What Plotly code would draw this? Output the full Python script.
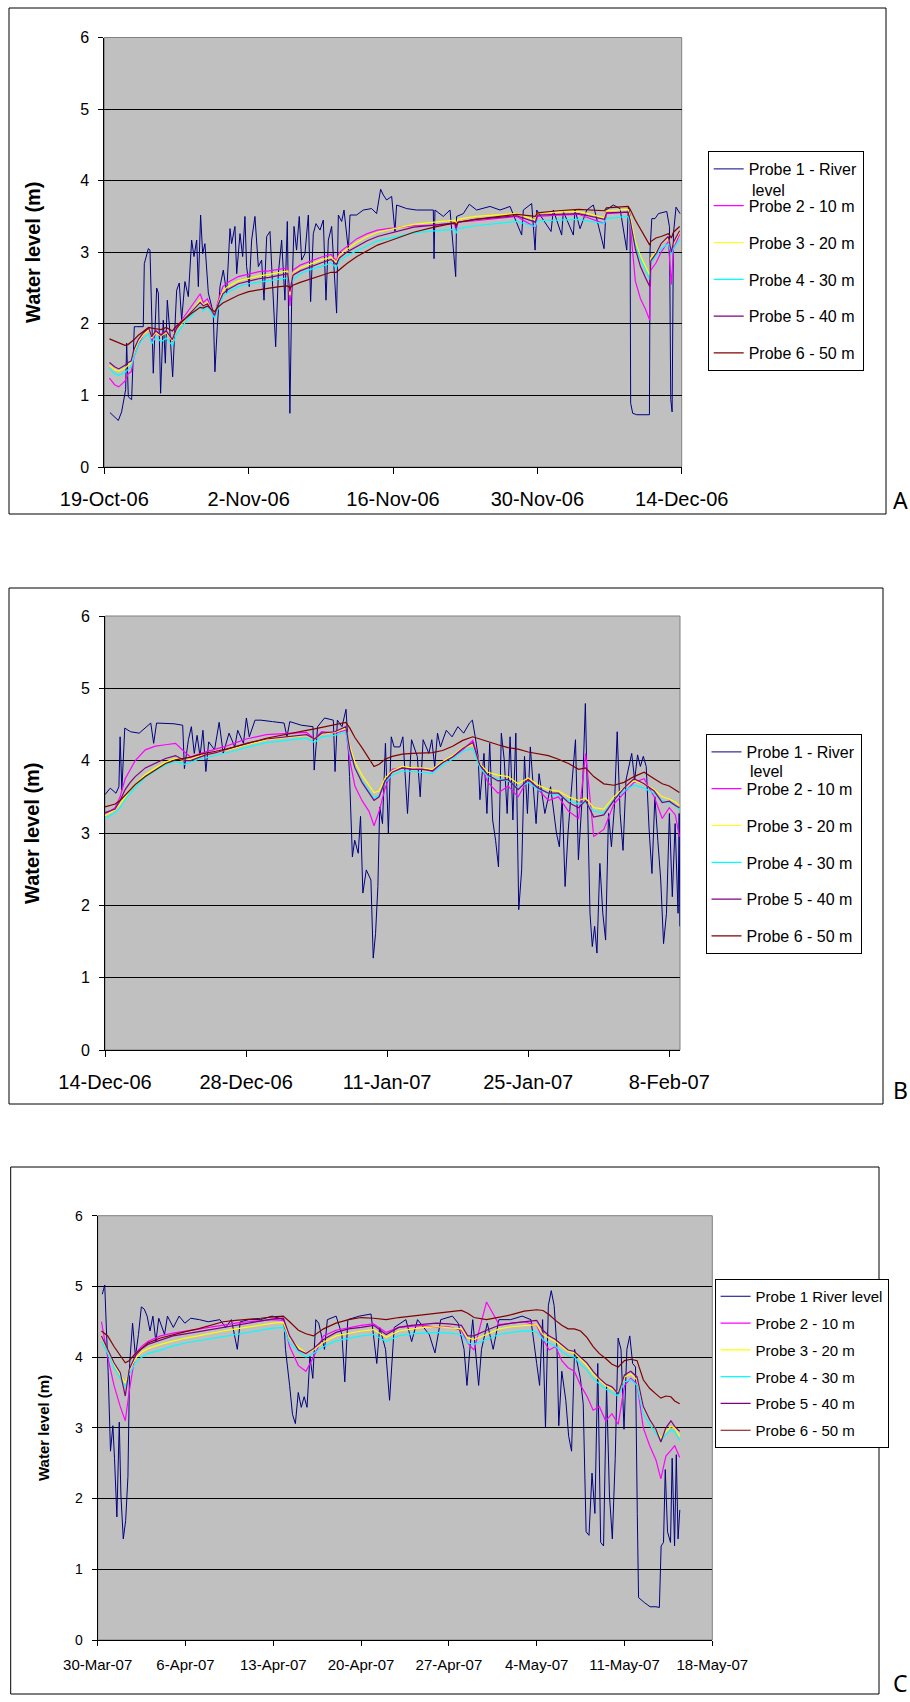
import pandas as pd
import plotly.graph_objects as go

W, H = 910, 1702
FONT = "Liberation Sans, Arial, sans-serif"

NAMES_AB = ["Probe 1 - River", "Probe 2 - 10 m", "Probe 3 - 20 m",
            "Probe 4 - 30 m", "Probe 5 - 40 m", "Probe 6 - 50 m"]
NAMES_AB_WRAP = "level"
NAMES_C = ["Probe 1 River level", "Probe 2 - 10 m", "Probe 3 - 20 m",
           "Probe 4 - 30 m", "Probe 5 - 40 m", "Probe 6 - 50 m"]
COLORS = ["#000080", "#FF00FF", "#FFFF00", "#00FFFF", "#800080", "#800000"]

# ---------------- Panel A (days after 19-Oct-06) ----------------
A_start, A_end = "2006-10-19", "2006-12-14"
A_tickvals = ["2006-10-19", "2006-11-02", "2006-11-16", "2006-11-30", "2006-12-14"]
A_ticktext = ["19-Oct-06", "2-Nov-06", "16-Nov-06", "30-Nov-06", "14-Dec-06"]

A_river_day = [0.55, 1.36, 1.68, 2.07, 2.17, 2.33, 2.65, 2.91, 3.14, 3.78,
               3.88, 4.27, 4.43, 4.59, 4.75, 5.08, 5.24, 5.46, 5.72, 5.92,
               6.11, 6.37, 6.63, 6.85, 7.02, 7.27, 7.5, 7.82, 8.15, 8.47,
               8.7, 8.96, 9.12, 9.34, 9.54, 9.76, 10.09, 10.57, 10.73, 10.96,
               11.22, 11.54, 11.87, 12.19, 12.35, 12.67, 12.84, 13.16, 13.42, 13.64,
               13.8, 14.06, 14.29, 14.61, 14.94, 15.26, 15.49, 15.75, 16.07, 16.33,
               16.62, 16.88, 17.2, 17.52, 17.75, 18.0, 18.17, 18.4, 18.65, 18.91,
               19.14, 19.46, 19.79, 20.01, 20.27, 20.53, 20.92, 21.24, 21.5, 21.73,
               22.05, 22.53, 22.7, 23.02, 23.25, 23.67, 23.83, 24.47, 25.12, 25.93,
               26.41, 26.8, 27.06, 27.38, 27.87, 28.19, 28.35, 29.32, 30.29, 31.91,
               31.98, 32.07, 32.88, 33.53, 34.08, 34.17, 34.82, 35.4, 36.11, 37.41,
               38.38, 39.35, 40.48, 40.64, 41.45, 41.78, 41.94, 43.33, 43.55, 44.36,
               44.52, 45.49, 45.65, 46.14, 46.79, 47.43, 48.47, 48.66, 49.37, 50.02,
               50.67, 50.83, 50.99, 51.05, 51.25, 51.64, 52.87, 52.93, 53.1, 53.41,
               53.74, 54.55, 54.81, 54.94, 55.07, 55.2, 55.45, 55.84]
A_river = [0.76, 0.65, 0.77, 1.08, 1.73, 0.98, 0.94, 1.96, 1.96, 1.96,
           2.84, 3.05, 3.03, 2.24, 1.31, 2.5, 2.43, 1.03, 2.05, 1.45,
           2.33, 1.87, 1.26, 1.96, 2.47, 2.57, 2.05, 2.59, 2.38, 3.17,
           2.94, 3.17, 2.52, 3.52, 2.98, 3.12, 2.43, 2.15, 1.33, 1.96,
           2.52, 2.75, 2.43, 3.33, 3.12, 3.36, 2.7, 3.26, 2.94, 3.5,
           2.8, 2.52, 3.17, 3.5, 2.8, 2.89, 2.33, 3.22, 3.29, 2.52,
           1.68, 2.7, 3.17, 2.33, 3.43, 0.75, 2.31, 3.36, 3.03, 3.5,
           2.89, 2.98, 3.52, 2.31, 3.26, 3.4, 3.31, 3.45, 2.33, 3.17,
           3.36, 2.15, 3.52, 3.43, 3.59, 3.03, 3.52, 3.52, 3.59, 3.61,
           3.54, 3.88, 3.8, 3.73, 3.78, 3.29, 3.66, 3.61, 3.59, 3.59,
           2.91, 3.59, 3.5, 3.59, 2.66, 3.5, 3.54, 3.67, 3.59, 3.64,
           3.59, 3.64, 3.24, 3.59, 3.68, 3.03, 3.59, 3.29, 3.59, 3.24,
           3.57, 3.24, 3.59, 3.33, 3.59, 3.66, 3.05, 3.59, 3.66, 3.61,
           3.03, 3.64, 3.52, 0.89, 0.75, 0.73, 0.73, 3.03, 3.47, 3.47,
           3.54, 3.57, 3.36, 0.94, 0.77, 3.26, 3.63, 3.54]

A_probe_day = [0.5, 1.0, 1.4, 2.0, 2.3, 2.6, 2.9, 3.3, 3.8, 4.3,
               4.6, 5.0, 5.5, 6.0, 6.6, 7.0, 7.5, 8.0, 8.5, 9.0,
               9.3, 9.6, 10.0, 10.7, 11.0, 11.5, 12.0, 13.0, 14.0, 15.0,
               16.0, 17.0, 17.8, 18.0, 18.3, 19.0, 20.0, 21.0, 22.0, 22.5,
               22.8, 23.5, 24.5, 25.5, 26.5, 27.5, 29.0, 30.0, 32.0, 34.0,
               34.1, 34.3, 36.0, 38.0, 40.0, 41.8, 42.0, 44.0, 46.0, 48.5,
               48.7, 50.8, 51.0, 51.5, 52.0, 52.5, 52.9, 53.0, 53.5, 54.0,
               54.7, 55.0, 55.2, 55.8]
A_probe2 = [1.24, 1.15, 1.12, 1.2, 1.3, 1.33, 1.55, 1.7, 1.85, 1.95,
            1.75, 1.9, 1.85, 1.9, 1.75, 1.95, 2.05, 2.15, 2.25, 2.35,
            2.42, 2.3, 2.35, 2.1, 2.3, 2.52, 2.58, 2.66, 2.7, 2.73,
            2.74, 2.76, 2.78, 2.25, 2.75, 2.82, 2.88, 2.93, 2.97, 2.88,
            3.0, 3.08, 3.19, 3.26, 3.31, 3.33, 3.35, 3.37, 3.38, 3.4,
            3.3, 3.42, 3.44, 3.47, 3.5, 3.35, 3.5, 3.52, 3.53, 3.4,
            3.54, 3.56, 3.4, 2.6, 2.35, 2.2, 2.05, 2.75, 2.85, 3.0,
            3.15, 2.55, 3.05, 3.25]
A_probe3 = [1.42, 1.36, 1.34, 1.38, 1.42, 1.45, 1.62, 1.75, 1.85, 1.92,
            1.8, 1.88, 1.83, 1.88, 1.76, 1.92, 2.0, 2.1, 2.18, 2.28,
            2.33, 2.25, 2.3, 2.12, 2.27, 2.46, 2.52, 2.6, 2.64, 2.67,
            2.69, 2.72, 2.74, 2.4, 2.72, 2.78, 2.84, 2.89, 2.93, 2.86,
            2.96, 3.04, 3.14, 3.22, 3.28, 3.31, 3.36, 3.39, 3.42, 3.45,
            3.38, 3.46, 3.5, 3.52, 3.54, 3.45, 3.55, 3.56, 3.57, 3.48,
            3.58, 3.6, 3.5, 3.15, 2.95, 2.8, 2.68, 2.92, 3.0, 3.12,
            3.2, 3.0, 3.12, 3.28]
A_probe4 = [1.38, 1.3, 1.28, 1.32, 1.36, 1.4, 1.55, 1.7, 1.8, 1.86,
            1.72, 1.82, 1.75, 1.8, 1.7, 1.85, 1.95, 2.05, 2.12, 2.2,
            2.25, 2.18, 2.24, 2.08, 2.2, 2.38, 2.44, 2.52, 2.56, 2.58,
            2.6, 2.62, 2.64, 2.5, 2.62, 2.7, 2.76, 2.8, 2.85, 2.78,
            2.88, 2.95, 3.02, 3.1, 3.16, 3.19, 3.24, 3.27, 3.3, 3.32,
            3.26, 3.33, 3.37, 3.4, 3.43, 3.36, 3.44, 3.45, 3.46, 3.4,
            3.47, 3.5, 3.4, 3.1, 2.9, 2.75, 2.62, 2.85, 2.95, 3.05,
            3.12, 2.97, 3.05, 3.18]
A_probe5 = [1.46, 1.4, 1.37, 1.42, 1.46, 1.48, 1.65, 1.78, 1.88, 1.94,
            1.82, 1.9, 1.84, 1.9, 1.78, 1.93, 2.02, 2.1, 2.17, 2.25,
            2.3, 2.25, 2.28, 2.12, 2.26, 2.42, 2.48, 2.56, 2.6, 2.63,
            2.65, 2.68, 2.7, 2.45, 2.68, 2.74, 2.8, 2.85, 2.9, 2.83,
            2.92, 3.0, 3.08, 3.16, 3.22, 3.26, 3.31, 3.35, 3.38, 3.41,
            3.34, 3.42, 3.46, 3.49, 3.51, 3.42, 3.52, 3.53, 3.54, 3.46,
            3.55, 3.56, 3.45, 3.05, 2.8, 2.64, 2.52, 2.88, 2.98, 3.12,
            3.22, 3.0, 3.14, 3.3]
A_probe6 = [1.79, 1.76, 1.73, 1.7, 1.71, 1.74, 1.78, 1.84, 1.9, 1.95,
            1.94, 1.93, 1.92, 1.95, 1.9, 1.97, 2.03, 2.1, 2.15, 2.2,
            2.23, 2.22, 2.25, 2.17, 2.23, 2.29, 2.33, 2.4, 2.45, 2.48,
            2.5, 2.52, 2.53, 2.5, 2.54, 2.58, 2.63, 2.67, 2.72, 2.72,
            2.76, 2.84, 2.94, 3.02, 3.1, 3.15, 3.23, 3.28, 3.35, 3.41,
            3.38, 3.42, 3.46, 3.5, 3.53, 3.5, 3.55, 3.58, 3.6, 3.58,
            3.62, 3.64, 3.6, 3.45, 3.33, 3.2, 3.1, 3.15, 3.2, 3.22,
            3.26, 3.2, 3.28, 3.36]

# ---------------- Panel B (days after 14-Dec-06) ----------------
B_start, B_end = "2006-12-14", "2007-02-09 01:30"
B_tickvals = ["2006-12-14", "2006-12-28", "2007-01-11", "2007-01-25", "2007-02-08"]
B_ticktext = ["14-Dec-06", "28-Dec-06", "11-Jan-07", "25-Jan-07", "8-Feb-07"]

B_river_day = [0, 0.52, 1.09, 1.38, 1.5, 1.67, 1.96, 2.53, 3.39, 4.54,
               4.83, 5.12, 6.84, 7.71, 7.88, 8.28, 8.57, 8.86, 9.14, 9.43,
               9.72, 10.01, 10.29, 10.87, 11.33, 11.73, 12.31, 12.88, 13.17, 13.74,
               14.03, 14.32, 14.89, 15.47, 16.62, 17.77, 18.06, 18.34, 19.49, 20.64,
               20.76, 21.1, 21.79, 22.66, 22.83, 23.06, 23.52, 23.92, 24.1, 24.27,
               24.55, 24.78, 25.13, 25.36, 25.59, 25.93, 26.39, 26.62, 26.85, 27.08,
               27.26, 27.54, 27.83, 28.12, 28.41, 28.69, 29.27, 29.56, 30.02, 30.42,
               30.99, 31.28, 31.57, 32.14, 32.43, 32.72, 33.0, 33.29, 33.87, 34.44,
               35.02, 35.59, 36.17, 36.46, 36.74, 37.03, 37.21, 37.61, 37.9, 38.18,
               38.47, 38.76, 39.05, 39.33, 39.62, 39.91, 40.2, 40.48, 40.77, 41.06,
               41.35, 41.63, 41.92, 42.21, 42.5, 42.78, 43.07, 43.65, 44.22, 44.8,
               45.09, 45.37, 45.66, 45.95, 46.23, 46.69, 46.98, 47.38, 47.67, 47.96,
               48.13, 48.36, 48.59, 48.82, 49.11, 49.4, 49.68, 49.97, 50.26, 50.55,
               50.83, 51.12, 51.41, 51.7, 51.98, 52.27, 52.56, 52.85, 53.13, 53.42,
               53.71, 54.0, 54.28, 54.57, 54.86, 55.15, 55.43, 55.72, 56.01, 56.3,
               56.58, 56.87, 56.98, 57.05]
B_river = [3.53, 3.62, 3.55, 3.64, 4.33, 3.59, 4.45, 4.4, 4.38, 4.52,
           4.24, 4.52, 4.51, 4.49, 3.89, 4.29, 4.47, 4.1, 4.35, 4.06,
           4.42, 3.85, 4.26, 4.15, 4.53, 4.1, 4.38, 4.19, 4.42, 4.24,
           4.59, 4.33, 4.56, 4.56, 4.54, 4.52, 4.33, 4.54, 4.49, 4.47,
           3.87, 4.47, 4.59, 4.56, 3.85, 4.56, 4.47, 4.71, 4.29, 3.78,
           2.67, 2.9, 2.72, 3.23, 2.17, 2.49, 2.35, 1.27, 1.61, 2.26,
           3.36, 3.13, 4.24, 3.0, 4.33, 4.19, 4.19, 4.33, 3.27, 4.29,
           4.06, 3.5, 4.29, 4.1, 4.29, 3.92, 4.38, 4.19, 4.42, 4.33,
           4.47, 4.38, 4.52, 4.56, 4.33, 4.06, 3.46, 4.1, 3.27, 4.24,
           3.18, 2.9, 2.53, 4.38, 4.01, 3.27, 4.33, 3.18, 4.38, 1.94,
           2.49, 4.06, 3.27, 4.19, 3.64, 3.13, 3.82, 3.27, 3.64, 3.0,
           2.81, 3.5, 2.26, 3.0, 3.5, 4.29, 2.63, 3.55, 4.79, 3.18,
           1.89, 1.43, 1.71, 1.34, 2.58, 1.89, 1.52, 3.27, 2.81, 3.36,
           4.4, 3.27, 2.76, 3.73, 3.92, 4.1, 3.73, 4.08, 3.92, 4.06,
           3.92, 3.04, 2.44, 3.5, 2.9, 2.35, 1.47, 1.89, 3.27, 2.12,
           3.13, 1.89, 3.27, 1.71]

B_probe_day = [0, 0.5, 1.0, 1.5, 2.0, 2.5, 3.0, 4.0, 5.0, 6.0,
               7.0, 7.9, 8.5, 9.5, 10.0, 11.0, 12.0, 13.0, 14.0, 16.0,
               18.0, 20.0, 20.8, 21.5, 22.8, 23.9, 24.3, 24.8, 25.5, 26.2,
               26.7, 27.2, 27.8, 28.5, 29.5, 30.5, 31.5, 32.5, 33.5, 34.5,
               35.5, 36.5, 37.2, 38.0, 39.0, 40.0, 41.0, 42.0, 43.0, 44.0,
               45.0, 46.0, 47.0, 47.7, 48.5, 49.5, 50.5, 51.5, 52.5, 53.5,
               54.5, 55.3, 56.0, 56.6, 57.0]
B_probe2 = [3.27, 3.3, 3.35, 3.5, 3.75, 3.88, 4.0, 4.15, 4.2, 4.22,
            4.24, 4.12, 4.05, 4.1, 4.12, 4.15, 4.2, 4.25, 4.3, 4.36,
            4.38, 4.39, 4.3, 4.4, 4.38, 4.42, 4.0, 3.65, 3.45, 3.3,
            3.1, 3.3, 3.62, 3.88, 3.9, 3.88, 3.9, 3.85, 3.98, 4.05,
            4.15, 4.28, 3.95, 3.7, 3.55, 3.65, 3.5, 3.75, 3.6, 3.45,
            3.5, 3.3, 3.2, 4.1, 2.95, 3.05, 3.4, 3.55, 3.7, 3.75,
            3.5, 3.2, 3.35, 3.25, 2.95]
B_probe3 = [3.24, 3.28, 3.32, 3.4, 3.5, 3.6, 3.67, 3.81, 3.9, 3.98,
            4.03, 4.0, 4.02, 4.07, 4.08, 4.11, 4.15, 4.18, 4.22, 4.29,
            4.32, 4.35, 4.3, 4.37, 4.39, 4.45, 4.2, 3.98, 3.8, 3.66,
            3.56, 3.58, 3.76, 3.86, 3.92, 3.9, 3.9, 3.88, 3.99, 4.07,
            4.18, 4.22, 3.96, 3.84, 3.8, 3.78, 3.68, 3.76, 3.66, 3.6,
            3.58, 3.5, 3.45, 3.48, 3.35, 3.33, 3.5, 3.63, 3.72, 3.68,
            3.6, 3.5, 3.47, 3.43, 3.38]
B_probe4 = [3.2, 3.24, 3.28, 3.35, 3.46, 3.55, 3.62, 3.77, 3.86, 3.94,
            3.99, 3.95, 3.98, 4.03, 4.04, 4.07, 4.11, 4.14, 4.18, 4.25,
            4.28, 4.31, 4.25, 4.33, 4.35, 4.4, 4.1, 3.9, 3.72, 3.58,
            3.48, 3.52, 3.7, 3.8, 3.86, 3.85, 3.84, 3.82, 3.94, 4.02,
            4.13, 4.17, 3.9, 3.78, 3.75, 3.72, 3.62, 3.7, 3.6, 3.55,
            3.52, 3.45, 3.4, 3.42, 3.3, 3.28, 3.46, 3.58, 3.66, 3.62,
            3.55, 3.45, 3.42, 3.38, 3.32]
B_probe5 = [3.28, 3.3, 3.33, 3.45, 3.6, 3.7, 3.78, 3.9, 3.97, 4.03,
            4.07, 4.0, 4.0, 4.06, 4.08, 4.11, 4.15, 4.19, 4.24, 4.3,
            4.33, 4.36, 4.3, 4.38, 4.4, 4.47, 4.15, 3.9, 3.7, 3.55,
            3.45, 3.5, 3.72, 3.84, 3.9, 3.88, 3.88, 3.86, 3.97, 4.05,
            4.17, 4.25, 3.94, 3.8, 3.72, 3.74, 3.6, 3.74, 3.62, 3.55,
            3.55, 3.42, 3.35, 3.45, 3.22, 3.25, 3.45, 3.62, 3.75, 3.68,
            3.58, 3.42, 3.44, 3.38, 3.35]
B_probe6 = [3.36, 3.38, 3.4, 3.45, 3.52, 3.6, 3.67, 3.78, 3.87, 3.96,
            4.01, 4.03, 4.05, 4.09, 4.1, 4.13, 4.16, 4.19, 4.23, 4.31,
            4.37, 4.42, 4.44, 4.46, 4.49, 4.53, 4.45, 4.32, 4.18, 4.02,
            3.92, 3.95, 4.02, 4.06, 4.09, 4.1, 4.1, 4.11, 4.14, 4.2,
            4.28, 4.33, 4.3, 4.26, 4.22, 4.18, 4.16, 4.12, 4.1, 4.07,
            4.02, 3.96, 3.88, 3.9, 3.78, 3.68, 3.66, 3.7, 3.78, 3.84,
            3.75, 3.68, 3.65, 3.6, 3.56]

# ---------------- Panel C (days after 30-Mar-07) ----------------
C_start, C_end = "2007-03-30", "2007-05-18"
C_tickvals = ["2007-03-30", "2007-04-06", "2007-04-13", "2007-04-20",
              "2007-04-27", "2007-05-04", "2007-05-11", "2007-05-18"]
C_ticktext = ["30-Mar-07", "6-Apr-07", "13-Apr-07", "20-Apr-07",
              "27-Apr-07", "4-May-07", "11-May-07", "18-May-07"]

C_river_day = [0.37, 0.56, 0.7, 0.83, 1.02, 1.21, 1.34, 1.53, 1.72, 1.85,
               2.04, 2.23, 2.41, 2.55, 2.78, 3.01, 3.25, 3.48, 3.71, 3.94,
               4.17, 4.4, 4.64, 4.87, 5.33, 5.56, 6.03, 6.49, 6.95, 7.42,
               8.11, 8.81, 9.74, 10.2, 10.66, 11.13, 11.36, 12.05, 12.98, 13.91,
               14.84, 14.97, 15.3, 15.53, 15.76, 15.99, 16.23, 16.46, 16.69, 16.92,
               17.15, 17.39, 17.62, 18.08, 18.31, 19.01, 19.47, 19.7, 19.94, 20.86,
               21.79, 22.25, 22.48, 22.95, 23.27, 23.64, 24.57, 25.03, 25.5, 26.43,
               26.89, 27.35, 28.28, 28.74, 29.21, 29.44, 29.67, 29.9, 30.37, 30.6,
               31.06, 31.53, 31.99, 32.92, 33.84, 34.54, 35.0, 35.23, 35.47, 35.7,
               35.93, 36.16, 36.39, 36.62, 36.76, 37.0, 37.32, 37.55, 37.78, 38.02,
               38.48, 38.71, 38.94, 39.17, 39.41, 39.64, 39.87, 40.1, 40.33, 40.57,
               40.8, 41.03, 41.26, 41.49, 41.72, 41.96, 42.19, 42.42, 42.65, 42.88,
               43.02, 43.12, 43.58, 44.04, 44.51, 44.78, 44.92, 45.11, 45.25, 45.43,
               45.67, 45.8, 45.99, 46.13, 46.27, 46.41]
C_river = [4.89, 5.02, 4.37, 3.8, 2.67, 3.03, 2.57, 1.74, 3.08, 2.05,
           1.43, 1.69, 2.31, 3.91, 4.48, 4.01, 4.32, 4.71, 4.68, 4.58,
           4.37, 4.58, 4.22, 4.55, 4.32, 4.58, 4.42, 4.58, 4.48, 4.55,
           4.53, 4.5, 4.53, 4.42, 4.53, 4.11, 4.5, 4.53, 4.53, 4.58,
           4.53, 4.11, 3.6, 3.19, 3.06, 3.5, 3.29, 3.44, 3.29, 4.01,
           3.7, 4.53, 4.48, 4.11, 4.53, 4.58, 4.32, 3.65, 4.53, 4.58,
           4.61, 3.91, 4.42, 4.11, 3.39, 4.42, 4.53, 4.22, 4.53, 4.32,
           4.06, 4.53, 4.58, 4.48, 4.11, 3.6, 4.11, 4.53, 3.6, 4.11,
           4.48, 4.11, 4.53, 4.53, 4.58, 4.53, 3.91, 3.6, 4.53, 3.0,
           4.73, 4.94, 4.73, 4.11, 3.03, 3.8, 3.39, 2.88, 2.67, 4.11,
           3.7, 3.34, 1.53, 1.48, 2.36, 1.79, 3.91, 1.38, 1.33, 3.6,
           2.05, 1.43, 2.57, 4.27, 4.11, 2.98, 4.11, 4.3, 3.91, 3.86,
           1.79, 0.6, 0.53, 0.47, 0.47, 0.46, 1.33, 1.38, 2.41, 1.53,
           1.38, 2.57, 1.33, 2.62, 1.43, 1.84]

C_probe_day = [0.3, 0.8, 1.3, 1.8, 2.2, 2.5, 3.0, 3.5, 4.0, 5.0,
               6, 7, 8, 9, 10, 11, 12, 13, 14, 14.8,
               15.3, 16.0, 16.6, 17.2, 18, 19, 20, 21, 22, 23,
               24, 25, 26, 27, 28, 29, 29.5, 30, 31, 32,
               33, 34, 35, 35.5, 36, 36.5, 37, 37.5, 38, 38.5,
               39, 39.5, 40, 40.5, 41, 41.5, 42, 42.5, 43, 43.5,
               44, 44.5, 44.9, 45.3, 45.7, 46.0, 46.4]
C_probe2 = [4.5, 4.0, 3.6, 3.3, 3.1, 3.5, 4.05, 4.15, 4.22, 4.3,
            4.34, 4.37, 4.39, 4.42, 4.46, 4.48, 4.5, 4.52, 4.53, 4.52,
            4.15, 3.88, 3.8, 4.0, 4.3, 4.38, 4.42, 4.45, 4.47, 4.35,
            4.42, 4.44, 4.45, 4.42, 4.43, 4.38, 4.2, 4.1, 4.78, 4.46,
            4.48, 4.5, 4.45, 4.25, 4.1, 4.15, 3.95, 3.85, 3.8, 3.6,
            3.45, 3.25, 3.3, 3.1, 3.2, 3.05, 3.6, 3.7, 3.62, 3.0,
            2.75, 2.55, 2.28, 2.6, 2.68, 2.75, 2.58]
C_probe3 = [4.28, 4.1, 3.9, 3.75, 3.63, 3.8, 3.98, 4.07, 4.12, 4.18,
            4.23, 4.27, 4.3, 4.34, 4.37, 4.4, 4.43, 4.46, 4.48, 4.49,
            4.27, 4.14, 4.06, 4.1, 4.21, 4.3, 4.34, 4.37, 4.39, 4.28,
            4.37, 4.4, 4.42, 4.43, 4.42, 4.4, 4.27, 4.25, 4.32, 4.4,
            4.43, 4.45, 4.46, 4.32, 4.27, 4.22, 4.15, 4.08, 4.06, 3.97,
            3.88, 3.76, 3.68, 3.6, 3.55, 3.5, 3.72, 3.76, 3.68, 3.28,
            3.12, 2.98, 2.86, 2.95, 3.02, 3.0, 2.88]
C_probe4 = [4.22, 4.05, 3.85, 3.7, 3.58, 3.75, 3.92, 4.0, 4.05, 4.1,
            4.16, 4.2, 4.23, 4.27, 4.3, 4.33, 4.36, 4.39, 4.41, 4.42,
            4.2, 4.08, 4.0, 4.05, 4.15, 4.23, 4.27, 4.3, 4.32, 4.22,
            4.3, 4.33, 4.34, 4.35, 4.34, 4.32, 4.2, 4.18, 4.25, 4.32,
            4.35, 4.37, 4.36, 4.25, 4.2, 4.15, 4.08, 4.02, 4.0, 3.9,
            3.82, 3.7, 3.62, 3.55, 3.5, 3.45, 3.65, 3.68, 3.6, 3.2,
            3.05, 2.92, 2.82, 2.9, 2.97, 2.95, 2.82]
C_probe5 = [4.3, 4.12, 3.92, 3.78, 3.45, 3.82, 4.02, 4.12, 4.18, 4.24,
            4.3, 4.33, 4.36, 4.4, 4.43, 4.46, 4.49, 4.52, 4.54, 4.55,
            4.3, 4.1, 4.05, 4.12, 4.25, 4.35, 4.4, 4.42, 4.45, 4.32,
            4.42, 4.45, 4.46, 4.48, 4.47, 4.45, 4.3, 4.3, 4.38, 4.45,
            4.48, 4.5, 4.52, 4.38, 4.3, 4.25, 4.18, 4.1, 4.08, 4.0,
            3.92, 3.8, 3.7, 3.62, 3.58, 3.48, 3.75, 3.8, 3.72, 3.3,
            3.12, 2.98, 2.8, 3.0, 3.1, 3.02, 2.95]
C_probe6 = [4.37, 4.3, 4.15, 4.02, 3.92, 3.95, 4.05, 4.12, 4.2, 4.27,
            4.32, 4.36, 4.4, 4.45, 4.5, 4.52, 4.53, 4.55, 4.57, 4.58,
            4.5, 4.38, 4.33, 4.3, 4.4, 4.48, 4.53, 4.56, 4.55, 4.53,
            4.56, 4.58, 4.6, 4.62, 4.64, 4.66, 4.62, 4.56, 4.53, 4.56,
            4.6, 4.65, 4.67, 4.66, 4.6, 4.52, 4.45, 4.4, 4.4, 4.37,
            4.28, 4.15, 4.05, 3.98, 3.9, 3.86, 3.95, 3.97, 3.95, 3.68,
            3.56, 3.48, 3.42, 3.45, 3.44, 3.38, 3.34]


def to_dates(start, days):
    return pd.Timestamp(start) + pd.to_timedelta(days, unit="D")


def px(x):
    return x / W


def py(y):
    return 1 - y / H


panels = [
    dict(start=A_start, end=A_end, tv=A_tickvals, tt=A_ticktext,
         river_day=A_river_day, river=A_river, pday=A_probe_day,
         probes=[A_probe2, A_probe3, A_probe4, A_probe5, A_probe6],
         names=NAMES_AB, xa="x", ya="y", lg="legend",
         dom_x=(104.3, 681.7), dom_y=(467, 37.5)),
    dict(start=B_start, end=B_end, tv=B_tickvals, tt=B_ticktext,
         river_day=B_river_day, river=B_river, pday=B_probe_day,
         probes=[B_probe2, B_probe3, B_probe4, B_probe5, B_probe6],
         names=NAMES_AB, xa="x2", ya="y2", lg="legend2",
         dom_x=(105, 680), dom_y=(1050, 616)),
    dict(start=C_start, end=C_end, tv=C_tickvals, tt=C_ticktext,
         river_day=C_river_day, river=C_river, pday=C_probe_day,
         probes=[C_probe2, C_probe3, C_probe4, C_probe5, C_probe6],
         names=NAMES_C, xa="x3", ya="y3", lg="legend3",
         dom_x=(97.7, 712.3), dom_y=(1640, 1215.7)),
]

fig = go.Figure()
for pi, p in enumerate(panels):
    xs = [to_dates(p["start"], p["river_day"])] + [to_dates(p["start"], p["pday"])] * 5
    ys = [p["river"]] + p["probes"]
    for k in range(6):
        fig.add_trace(go.Scatter(
            x=xs[k], y=ys[k], mode="lines", name=p["names"][k],
            line=dict(color=COLORS[k], width=1.0 if k == 0 else 1.2),
            xaxis=p["xa"], yaxis=p["ya"], legend=p["lg"],
            legendgroup=f"{pi}-{k}", hoverinfo="skip"))

layout = dict(template="none", width=W, height=H,
              margin=dict(l=0, r=0, t=0, b=0, pad=0),
              paper_bgcolor="white", plot_bgcolor="#C0C0C0",
              font=dict(family=FONT, color="black"))

small = [False, False, True]
for pi, p in enumerate(panels):
    sfx = "" if pi == 0 else str(pi + 1)
    xfs = 15 if small[pi] else 20
    yfs = 14 if small[pi] else 16
    layout["xaxis" + sfx] = dict(
        domain=[px(p["dom_x"][0]), px(p["dom_x"][1])], anchor="y" + sfx,
        type="date", range=[p["start"], p["end"]], automargin=False,
        tickmode="array", tickvals=p["tv"], ticktext=p["tt"],
        ticks="outside", ticklen=6 if not small[pi] else 5, tickcolor="black",
        showline=True, linecolor="black", linewidth=1,
        showgrid=False, zeroline=False,
        tickfont=dict(size=xfs, family=FONT, color="black"),
        ticklabelstandoff=8 if not small[pi] else 6)
    layout["yaxis" + sfx] = dict(
        domain=[py(p["dom_y"][0]), py(p["dom_y"][1])], anchor="x" + sfx,
        range=[0, 6], tickmode="array", tickvals=[0, 1, 2, 3, 4, 5, 6],
        automargin=False,
        ticks="outside", ticklen=5, tickcolor="black",
        showline=True, linecolor="black", linewidth=1,
        showgrid=True, gridcolor="black", gridwidth=1, zeroline=False,
        tickfont=dict(size=yfs, family=FONT, color="black"),
        ticklabelstandoff=6)

# legend boxes: (left px, top px, font size, gap between entries)
legend_pos = [(707.7, 151, 16, 13), (705.5, 734, 16, 13), (714.6, 1279, 15, 4.3)]
for pi, (lx, ly, fs, gap) in enumerate(legend_pos):
    key = "legend" if pi == 0 else f"legend{pi + 1}"
    layout[key] = dict(x=px(lx), y=py(ly), xanchor="left", yanchor="top",
                       bgcolor="white", bordercolor="black", borderwidth=1,
                       font=dict(size=fs, family=FONT, color="black"),
                       itemwidth=30, tracegroupgap=gap, valign="middle",
                       traceorder="grouped")

shapes = []
for pi, p in enumerate(panels):
    sfx = "" if pi == 0 else str(pi + 1)
    shapes.append(dict(type="rect", xref=f"x{sfx} domain", yref=f"y{sfx} domain",
                       x0=0, x1=1, y0=0, y1=1, layer="below",
                       line=dict(color="#808080", width=1)))
boxes = [(9, 8, 886, 514), (9, 588, 883, 1104), (10.7, 1167, 879, 1694)]
for (x0, y0, x1, y1) in boxes:
    shapes.append(dict(type="rect", xref="paper", yref="paper",
                       x0=px(x0), x1=px(x1), y0=py(y1), y1=py(y0),
                       line=dict(color="black", width=1)))
layout["shapes"] = shapes

annotations = []
titles = [(33, 252, 20), (32, 833, 20), (43, 1428, 15)]
for (tx, ty, fs) in titles:
    annotations.append(dict(text="<b>Water level (m)</b>", x=px(tx), y=py(ty),
                            xref="paper", yref="paper", showarrow=False,
                            textangle=-90, xanchor="center", yanchor="middle",
                            font=dict(size=fs, family=FONT, color="black")))
# wrapped second line of the first legend entry in panels A and B
for (lx, ly) in [(751, 190), (749, 771)]:
    annotations.append(dict(text=NAMES_AB_WRAP, x=px(lx), y=py(ly), xref="paper",
                            yref="paper", showarrow=False, xanchor="left",
                            yanchor="middle", height=14, borderpad=0,
                            font=dict(size=16, family=FONT, color="black")))
letters = [("A", 518), ("B", 1108), ("C", 1701)]
for (lt, ly) in letters:
    annotations.append(dict(text=lt, x=px(891), y=py(ly), xref="paper", yref="paper",
                            showarrow=False, xanchor="left", yanchor="bottom",
                            font=dict(size=23, family="Noto Sans, DejaVu Sans",
                                      color="black")))
layout["annotations"] = annotations

fig.update_layout(**layout)
fig.write_html("out.html")
